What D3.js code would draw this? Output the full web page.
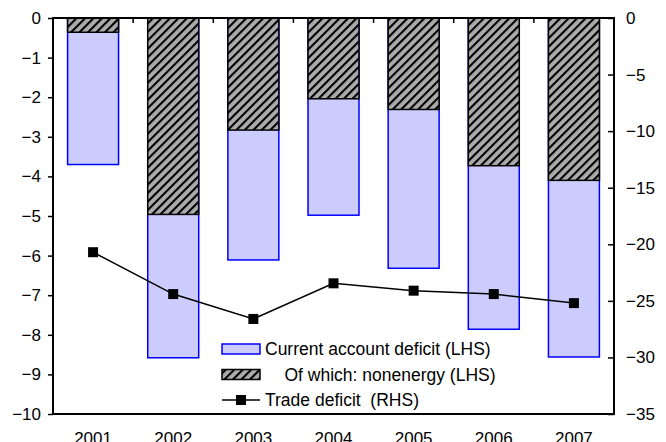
<!DOCTYPE html>
<html>
<head>
<meta charset="utf-8">
<script src="https://cdn.jsdelivr.net/npm/d3@7"></script>
<style>
  body { margin: 0; padding: 0; background: #fff; }
  svg { display: block; font-family: "Liberation Sans", Arial, sans-serif; }
</style>
</head>
<body>
<script>
// chart data
const years = ["2001", "2002", "2003", "2004", "2005", "2006", "2007"];
const currentAccount = [-3.7, -8.58, -6.11, -4.98, -6.32, -7.86, -8.56];   // LHS
const nonenergy = [-0.36, -4.96, -2.83, -2.04, -2.31, -3.73, -4.1];        // LHS
const tradeDeficit = [-20.7, -24.4, -26.6, -23.45, -24.1, -24.4, -25.2];   // RHS
const leftTicks = [0, -1, -2, -3, -4, -5, -6, -7, -8, -9, -10];
const rightTicks = [0, -5, -10, -15, -20, -25, -30, -35];
const legendLabels = ["Current account deficit (LHS)", "    Of which: nonenergy (LHS)", "Trade deficit  (RHS)"];
const title = "Current account and trade deficits";

const width = 666, height = 442;
const margin = { top: 18, right: 52, bottom: 28, left: 53 };
const fontSize = "17px";

const svg = d3.select("body").append("svg")
  .attr("width", width)
  .attr("height", height);

// hatch pattern for the nonenergy bars
const defs = svg.append("defs");
const pat = defs.append("pattern")
  .attr("id", "hatch")
  .attr("patternUnits", "userSpaceOnUse")
  .attr("width", 6)
  .attr("height", 6)
  .attr("patternTransform", "rotate(45)");
pat.append("rect").attr("width", 6).attr("height", 6).attr("fill", "#ababab");
pat.append("line")
  .attr("x1", 1).attr("y1", 0).attr("x2", 1).attr("y2", 6)
  .attr("stroke", "#000").attr("stroke-width", 2.2);

const x = d3.scaleBand()
  .domain(years)
  .range([margin.left, width - margin.right])
  .paddingInner(0.364)
  .paddingOuter(0.182);

const yL = d3.scaleLinear().domain([-10, 0]).range([height - margin.bottom, margin.top]);
const yR = d3.scaleLinear().domain([-35, 0]).range([height - margin.bottom, margin.top]);

// title, almost all cut off at the top edge like in the original
svg.append("text")
  .attr("x", (margin.left + width - margin.right) / 2)
  .attr("y", -0.5)
  .attr("text-anchor", "middle")
  .attr("font-size", fontSize)
  .attr("fill", "#000")
  .text(title);

// current account bars
svg.append("g").selectAll("rect")
  .data(years)
  .join("rect")
  .attr("x", d => x(d))
  .attr("width", x.bandwidth())
  .attr("y", yL(0))
  .attr("height", (d, i) => yL(currentAccount[i]) - yL(0))
  .attr("fill", "#ccccff")
  .attr("stroke", "#0000ff")
  .attr("stroke-width", 1.5);

// nonenergy (hatched) bars
svg.append("g").selectAll("rect")
  .data(years)
  .join("rect")
  .attr("x", d => x(d))
  .attr("width", x.bandwidth())
  .attr("y", yL(0))
  .attr("height", (d, i) => yL(nonenergy[i]) - yL(0))
  .attr("fill", "url(#hatch)")
  .attr("stroke", "#000")
  .attr("stroke-width", 1.5);

// trade deficit line on right scale
const line = d3.line()
  .x((d, i) => x(years[i]) + x.bandwidth() / 2)
  .y(d => yR(d));

svg.append("path")
  .datum(tradeDeficit)
  .attr("fill", "none")
  .attr("stroke", "#000")
  .attr("stroke-width", 1.5)
  .attr("d", line);

svg.append("g").selectAll("rect")
  .data(tradeDeficit)
  .join("rect")
  .attr("x", (d, i) => x(years[i]) + x.bandwidth() / 2 - 5)
  .attr("y", d => yR(d) - 5)
  .attr("width", 10)
  .attr("height", 10)
  .attr("fill", "#000");

// frame
svg.append("rect")
  .attr("x", margin.left)
  .attr("y", margin.top)
  .attr("width", width - margin.left - margin.right)
  .attr("height", height - margin.top - margin.bottom)
  .attr("fill", "none")
  .attr("stroke", "#000")
  .attr("stroke-width", 2);

// category separators hanging from the top edge
const gap = (x.step() - x.bandwidth()) / 2;
svg.append("g").selectAll("line")
  .data(years.slice(1))
  .join("line")
  .attr("x1", d => x(d) - gap)
  .attr("x2", d => x(d) - gap)
  .attr("y1", margin.top)
  .attr("y2", margin.top + 5)
  .attr("stroke", "#000")
  .attr("stroke-width", 1.5);

// left axis
const axL = svg.append("g")
  .attr("transform", `translate(${margin.left},0)`)
  .call(d3.axisLeft(yL).tickValues(leftTicks).tickSize(5).tickPadding(7).tickFormat(d3.format("d")));
axL.select(".domain").remove();
axL.selectAll(".tick line").attr("stroke-width", 1.5);
axL.selectAll("text").attr("font-size", fontSize).attr("fill", "#000").attr("font-family", "Liberation Sans, Arial, sans-serif");

// right axis, ticks pointing in
const axR = svg.append("g")
  .attr("transform", `translate(${width - margin.right},0)`)
  .call(d3.axisRight(yR).tickValues(rightTicks).tickSizeInner(-6).tickSizeOuter(0).tickPadding(12).tickFormat(d3.format("d")));
axR.select(".domain").remove();
axR.selectAll(".tick line").attr("stroke-width", 1.5);
axR.selectAll("text").attr("font-size", fontSize).attr("fill", "#000").attr("font-family", "Liberation Sans, Arial, sans-serif");

// year labels below the frame
svg.append("g").selectAll("text")
  .data(years)
  .join("text")
  .attr("x", d => x(d) + x.bandwidth() / 2)
  .attr("y", height - margin.bottom + 30)
  .attr("text-anchor", "middle")
  .attr("font-size", fontSize)
  .attr("fill", "#000")
  .text(d => d);

// legend
const legX = 222, legY = 349, rowH = 25.5;
const leg = svg.append("g");

leg.append("rect")
  .attr("x", legX).attr("y", legY - 5)
  .attr("width", 38).attr("height", 10)
  .attr("fill", "#ccccff").attr("stroke", "#0000ff").attr("stroke-width", 1.5);

leg.append("rect")
  .attr("x", legX).attr("y", legY + rowH - 5)
  .attr("width", 38).attr("height", 10)
  .attr("fill", "url(#hatch)").attr("stroke", "#000").attr("stroke-width", 1.5);

leg.append("line")
  .attr("x1", legX).attr("x2", legX + 38)
  .attr("y1", legY + rowH * 2).attr("y2", legY + rowH * 2)
  .attr("stroke", "#000").attr("stroke-width", 1.5);
leg.append("rect")
  .attr("x", legX + 14).attr("y", legY + rowH * 2 - 5)
  .attr("width", 10).attr("height", 10)
  .attr("fill", "#000");

leg.selectAll("text")
  .data(legendLabels)
  .join("text")
  .attr("x", legX + 43)
  .attr("y", (d, i) => legY + i * rowH)
  .attr("dy", "0.35em")
  .attr("font-size", "17.5px")
  .attr("fill", "#000")
  .attr("xml:space", "preserve")
  .style("white-space", "pre")
  .text(d => d);
</script>
</body>
</html>
